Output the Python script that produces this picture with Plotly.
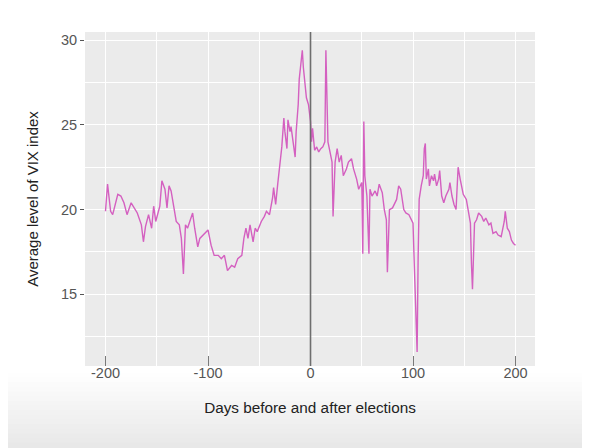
import plotly.graph_objects as go

# -------------------------------------------------------
# Data
# -------------------------------------------------------
days = [
    -200, -198, -195, -193, -188, -185, -182, -179, -175, -172, -169, -165,
    -163, -161, -158, -155, -153, -151, -147, -145, -142, -140, -138, -136,
    -133, -131, -128, -126, -124, -122, -120, -117, -115, -113, -110, -108,
    -105, -100, -97, -94, -90, -87, -84, -81, -77, -74, -71, -67, -65, -63,
    -61, -59, -56, -54, -52, -48, -45, -43, -40, -37, -36, -34, -32, -30,
    -28, -26, -25, -23, -22, -20, -19, -17, -15, -14, -12, -11, -9, -8, -7,
    -5, -4, -2, 0, 1, 2, 4, 6, 8, 10, 12, 14, 15, 16, 17, 19, 21, 22, 24,
    26, 28, 30, 32, 35, 37, 40, 42, 45, 47, 50, 51, 52, 53, 55, 57, 58, 60,
    63, 65, 67, 70, 72, 74, 75, 77, 80, 84, 86, 88, 91, 93, 96, 98, 100,
    101, 102, 103, 104, 105, 106, 108, 110, 111, 112, 113, 115, 116, 118,
    120, 121, 123, 125, 126, 128, 130, 132, 135, 136, 138, 140, 142, 143,
    144, 146, 148, 149, 152, 154, 156, 157, 158, 160, 162, 164, 167, 169,
    171, 174, 176, 178, 181, 183, 186, 187, 189, 190, 192, 194, 196, 198, 200,
]

vix = [
    19.9, 21.5, 19.9, 19.7, 20.9, 20.8, 20.4, 19.7, 20.4, 20.1, 19.8, 19.1,
    18.1, 19.0, 19.7, 18.9, 20.2, 19.3, 20.2, 21.7, 21.2, 20.1, 21.4, 21.1,
    19.9, 19.3, 19.1, 18.3, 16.2, 19.1, 18.9, 19.5, 19.8, 18.9, 17.8, 18.3,
    18.5, 18.8, 17.9, 17.3, 17.3, 17.1, 17.3, 16.4, 16.7, 16.6, 17.1, 17.3,
    18.3, 18.9, 18.3, 19.1, 18.1, 18.9, 18.7, 19.3, 19.6, 19.9, 19.7, 20.7,
    21.3, 20.3, 21.5, 22.7, 23.7, 25.4, 24.6, 23.6, 25.3, 24.6, 24.9, 24.0,
    23.1, 24.6, 26.2, 27.7, 29.0, 29.4, 28.4, 27.4, 26.6, 26.2, 25.2, 24.0,
    24.8, 23.5, 23.7, 23.4, 23.6, 23.7, 24.0, 29.4, 27.0, 24.0, 23.4, 22.8,
    19.6, 22.8, 23.6, 22.8, 23.2, 22.0, 22.4, 22.8, 23.0, 22.4, 21.8, 21.2,
    21.6, 17.4, 25.2, 22.0, 20.8, 17.4, 21.2, 20.8, 21.1, 20.8, 21.5, 21.0,
    20.0, 19.4, 16.3, 20.0, 20.1, 20.6, 21.4, 21.2, 20.0, 19.8, 19.7, 19.4,
    19.2, 17.2, 15.2, 12.8, 11.6, 17.2, 20.6, 21.4, 22.0, 23.6, 23.9, 21.8,
    22.4, 21.4, 22.0, 21.7, 22.1, 21.4, 21.8, 22.3, 20.8, 20.4, 20.8, 21.2,
    21.6, 20.8, 20.3, 20.0, 21.8, 22.5, 21.8, 21.2, 20.9, 20.6, 20.0, 19.2,
    16.8, 15.3, 19.2, 19.4, 19.8, 19.6, 19.3, 19.5, 19.1, 19.2, 18.6, 18.7,
    18.5, 18.4, 18.7, 19.3, 19.9, 18.9, 18.7, 18.2, 18.0, 17.9,
]

x_ticks = [-200, -100, 0, 100, 200]
y_ticks = [15, 20, 25, 30]

FONT = "Liberation Sans, Arial, sans-serif"

fig = go.Figure()

fig.add_trace(
    go.Scatter(
        x=days,
        y=vix,
        mode="lines",
        line=dict(color="#d460c0", width=1.4),
        showlegend=False,
    )
)

# election day marker
fig.add_vline(x=0, line=dict(color="#6e6e6e", width=1.6))

# soft grey fade at the bottom (screenshot look)
n_steps = 18
for i in range(n_steps):
    g = 255 - int((i + 1) * 26 / n_steps)
    fig.add_shape(
        type="rect", xref="paper", yref="paper",
        x0=-0.2, x1=1.2, y0=-0.35, y1=-0.02 - i * 0.014,
        fillcolor=f"rgb({g},{g},{g})", line=dict(width=0), layer="below",
    )

# the page body adds an 8px offset, so the figure is sized to compensate
fig.update_layout(
    width=582,
    height=440,
    margin=dict(l=77, r=55, t=24, b=82),
    paper_bgcolor="white",
    plot_bgcolor="#ebebeb",
    font=dict(family=FONT, color="#222222"),
)

fig.update_xaxes(
    range=[-220, 219],
    tickvals=x_ticks,
    ticktext=[str(v) for v in x_ticks],
    ticks="inside",
    ticklen=10,
    tickwidth=1.2,
    tickcolor="#7a7a7a",
    tickfont=dict(size=14.5, color="#555555"),
    ticklabelstandoff=-4,
    showgrid=True,
    gridcolor="white",
    gridwidth=1.2,
    minor=dict(showgrid=True, dtick=50, tick0=0, gridcolor="white", gridwidth=0.6),
    zeroline=False,
    showline=False,
    title=dict(text="Days before and after elections", font=dict(size=15.3, color="#222222"), standoff=22),
)

fig.update_yaxes(
    range=[10.77, 30.48],
    tickvals=y_ticks,
    ticktext=[str(v) for v in y_ticks],
    ticks="outside",
    ticklen=4,
    tickwidth=1,
    tickcolor="#555555",
    tickfont=dict(size=14.5, color="#555555"),
    showgrid=True,
    gridcolor="white",
    gridwidth=1.2,
    minor=dict(showgrid=True, dtick=2.5, tick0=0, gridcolor="white", gridwidth=0.6),
    zeroline=False,
    showline=False,
    title=dict(text="Average level of VIX index", font=dict(size=15, color="#222222"), standoff=18),
)

fig.write_html("out.html")
